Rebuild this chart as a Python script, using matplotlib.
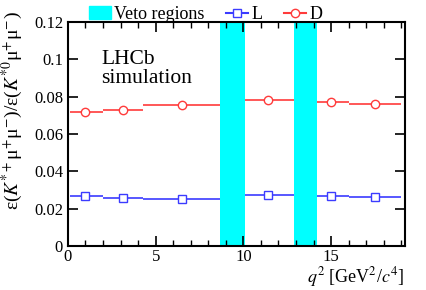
import matplotlib.pyplot as plt
from matplotlib.patches import Patch
from matplotlib.lines import Line2D

plt.rcParams["font.family"] = ["Liberation Serif", "DejaVu Serif"]
plt.rcParams["mathtext.fontset"] = "stix"

# q2 bins [GeV^2/c^4]
bin_lo = [0.1, 2.0, 4.3, 10.09, 14.18, 16.0]
bin_hi = [2.0, 4.3, 8.68, 12.86, 16.0, 19.0]
bin_ctr = [1.0, 3.15, 6.5, 11.4, 15.0, 17.5]

eff_D = [0.0720, 0.0728, 0.0754, 0.0782, 0.0769, 0.0760]
eff_L = [0.0268, 0.0258, 0.0251, 0.0273, 0.0266, 0.0262]

veto = [(8.68, 10.09), (12.86, 14.18)]

fig = plt.figure(figsize=(4.27, 2.90), dpi=100)
ax = fig.add_axes([0.159, 0.152, 0.789, 0.772])

for lo, hi in veto:
    ax.axvspan(lo, hi, color="#00ffff", lw=0, zorder=1)

xerr_lo = [c - lo for c, lo in zip(bin_ctr, bin_lo)]
xerr_hi = [hi - c for c, hi in zip(bin_ctr, bin_hi)]

red = "#ff3b3b"
blue = "#3b3bff"
ax.errorbar(bin_ctr, eff_D, xerr=[xerr_lo, xerr_hi], fmt="o", color=red,
            mfc="white", mec=red, ms=6, elinewidth=1.2, capsize=0, zorder=3)
ax.errorbar(bin_ctr, eff_L, xerr=[xerr_lo, xerr_hi], fmt="s", color=blue,
            mfc="white", mec=blue, ms=6, elinewidth=1.2, capsize=0, zorder=3)

ax.set_xlim(0, 19.2)
ax.set_ylim(0, 0.12)
ax.set_xticks([0, 5, 10, 15])
ax.set_xticks(range(0, 20), minor=True)
ax.set_yticks([0, 0.02, 0.04, 0.06, 0.08, 0.1, 0.12])
ax.set_yticklabels(["0", "0.02", "0.04", "0.06", "0.08", "0.1", "0.12"])
ax.tick_params(which="both", direction="in", top=True, right=True, labelsize=12)
ax.tick_params(which="major", length=7, width=1.2)
ax.tick_params(which="minor", length=4, width=1)
ax.tick_params(axis="x", pad=2)
for s in ax.spines.values():
    s.set_linewidth(1.5)

fig.text(0.947, 0.026, r"$q^2$ [GeV$^2$/$c^4$]", fontsize=13,
         ha="right", va="baseline")
fig.text(0.03, 0.62,
         r"ε($K^{*+}$μ$^{+}$μ$^{-}$)/ε($K^{*0}$μ$^{+}$μ$^{-}$)",
         fontsize=14, rotation=90, ha="center", va="center")

ax.text(0.1, 0.875, "LHCb\nsimulation", transform=ax.transAxes, fontsize=15.5,
        va="top", ha="left", linespacing=1.0)

handles = [Patch(color="#00ffff"),
           Line2D([], [], color=blue, marker="s", mfc="white", mec=blue, ms=6),
           Line2D([], [], color=red, marker="o", mfc="white", mec=red, ms=6)]
fig.legend(handles, ["Veto regions", "L", "D"], loc="upper left",
           bbox_to_anchor=(0.17, 1.035), ncol=3, frameon=False, fontsize=13,
           handlelength=1.2, handletextpad=0.2, columnspacing=1.2)

fig.savefig("out.png", dpi=100)
